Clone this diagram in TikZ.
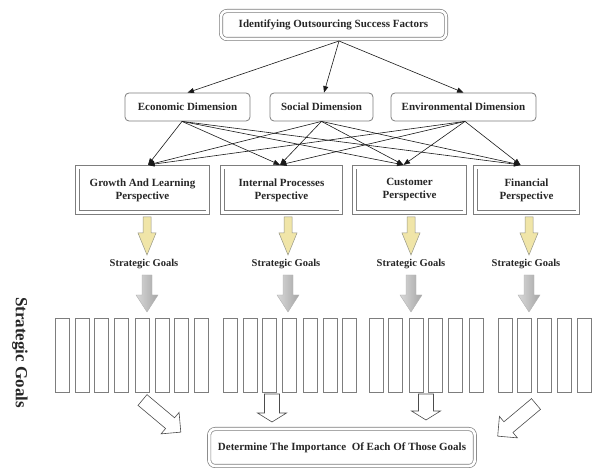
\documentclass[tikz,border=0pt]{standalone}
\usepackage{fontspec}
\setmainfont{Liberation Serif}
\usetikzlibrary{arrows.meta}
\definecolor{boxline}{RGB}{125,125,125}
\definecolor{yfill}{RGB}{240,229,168}
\definecolor{yline}{RGB}{150,150,135}
\newcommand\darr[7]{\path[#7] ({#1-#4/2},#2) -- ({#1-#4/2},{#3-#6}) -- ({#1-#5/2},{#3-#6}) -- (#1,#3) -- ({#1+#5/2},{#3-#6}) -- ({#1+#4/2},{#3-#6}) -- ({#1+#4/2},#2) -- cycle;}
\newcommand\barr[8]{\path[#8,shift={(#1,#2)},rotate=#3] (0,{-#5/2}) -- ({#4-#7},{-#5/2}) -- ({#4-#7},{-#6/2}) -- (#4,0) -- ({#4-#7},{#6/2}) -- ({#4-#7},{#5/2}) -- (0,{#5/2}) -- cycle;}
\begin{document}
\begin{tikzpicture}[x=1pt,y=-1pt,
  txt/.style={font=\bfseries\fontsize{11}{13}\selectfont, text=black!85},
  dblround/.style={txt, draw=boxline, line width=0.7pt, double=white, double distance=2.6pt, rounded corners=6pt, outer sep=2pt, inner sep=0pt, align=center},
  dimbox/.style={txt, draw=boxline, line width=0.8pt, rounded corners=4pt, inner sep=0pt, align=center},
  perspbox/.style={txt, draw=boxline, line width=0.8pt, double=white, double distance=3pt, outer sep=2.3pt, inner sep=0pt, align=center, minimum height=45.6pt},
  conn/.style={line width=0.6pt, black!90, -{Triangle[length=6.5pt,width=5pt]}},
  yarrow/.style={fill=yfill, draw=yline, line width=0.5pt},
  garrow/.style={left color=gray!30, right color=gray!70, draw=gray!60, line width=0.4pt},
  harrow/.style={fill=white, draw=black!70, line width=0.6pt},
  goalbar/.style={draw=boxline, line width=0.8pt, fill=white},
  sglabel/.style={font=\bfseries\fontsize{10.5}{12}\selectfont, text=black!85}
]
\useasboundingbox (0,0) rectangle (595,470);

% top
\node[dblround, minimum width=225pt, minimum height=28pt] (top) at (333.5,25) {Identifying Outsourcing Success Factors};

% dimensions
\node[dimbox, minimum width=125pt, minimum height=28pt] (eco) at (187.5,107) {Economic Dimension};
\node[dimbox, minimum width=103pt, minimum height=28pt] (soc) at (321.5,107) {Social Dimension};
\node[dimbox, minimum width=145pt, minimum height=28pt] (env) at (463.5,107) {Environmental Dimension};

\draw[conn] ([xshift=5.5pt]top.south) -- (eco.north);
\draw[conn] ([xshift=5.5pt]top.south) -- ([xshift=2.5pt]soc.north);
\draw[conn] ([xshift=5.5pt]top.south) -- (env.north);

% perspectives
\node[perspbox, minimum width=130.6pt] (gl) at (142.5,190) {Growth And Learning\\Perspective};
\node[perspbox, minimum width=118.6pt] (ip) at (281.5,190) {Internal Processes\\Perspective};
\node[perspbox, minimum width=110.6pt] (cu) at (409.5,190) {Customer\\Perspective};
\node[perspbox, minimum width=102.6pt] (fi) at (526.5,190) {Financial\\Perspective};

\foreach \s/\sx in {eco/-5.5pt, soc/0pt, env/1.5pt}{
  \draw[conn] ([xshift=\sx]\s.south) -- ([xshift=5.5pt]gl.north);
  \draw[conn] ([xshift=\sx]\s.south) -- ([xshift=-1.5pt]ip.north);
  \draw[conn] ([xshift=\sx]\s.south) -- ([xshift=-6pt]cu.north);
  \draw[conn] ([xshift=\sx]\s.south) -- ([xshift=-6pt]fi.north);
}

% yellow arrows, labels, gray arrows
\foreach \cx/\lx in {147/144, 288/286, 411/411, 529/526}{
  \darr{\cx}{217}{255}{8}{18}{22}{yarrow}
  \node[sglabel] at (\lx,264) {Strategic Goals};
  \darr{\cx}{275}{312}{10}{22}{17}{garrow}
}

% left vertical label
\node[rotate=-90, font=\bfseries\fontsize{17}{20}\selectfont, text=black!85] (sg) at (20,352.5) {Strategic Goals};

% goal bars
\foreach \x in {55,75,94,114,135,155,174,194,223,243,262,282,303,323,342,369,388,409,428,448,469,498,517,537,557,577}
  \draw[goalbar] (\x,318) rectangle ++(14,74);

% hollow arrows
\barr{142.5}{400}{-40}{50}{14}{28}{14}{harrow}
\darr{272}{394}{422}{15}{29}{9}{harrow}
\darr{426}{394}{420}{15}{29}{9}{harrow}
\barr{536}{404}{-140}{50}{14}{28}{14}{harrow}

% bottom
\node[dblround, minimum width=265.6pt, minimum height=37pt] (bot) at (342,447.5) {Determine The Importance\ \ Of Each Of Those Goals};
\end{tikzpicture}
\end{document}
